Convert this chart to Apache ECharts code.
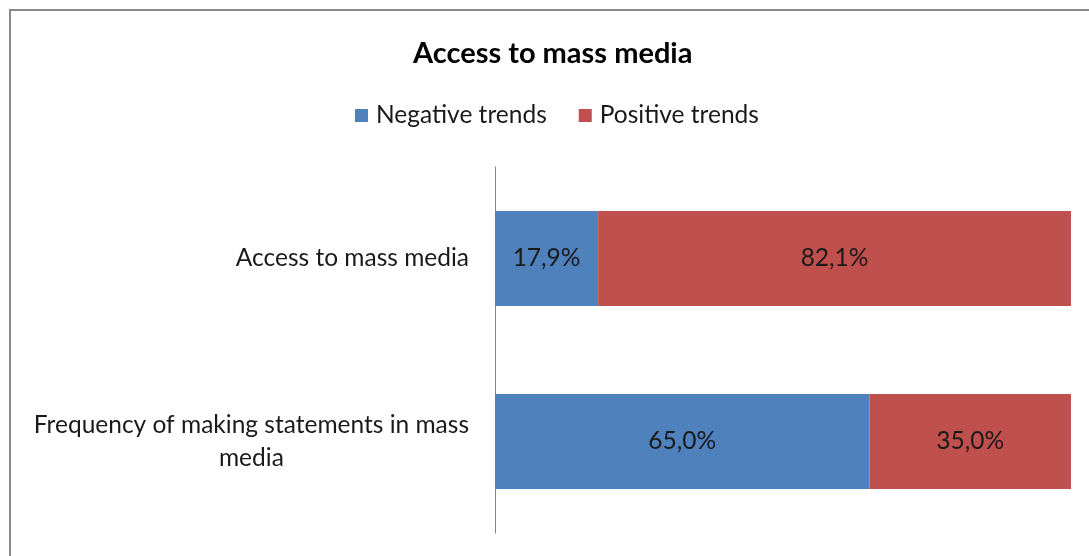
<!DOCTYPE html>
<html>
<head>
<meta charset="utf-8">
<title>Access to mass media</title>
<script src="https://cdn.jsdelivr.net/npm/echarts@6/dist/echarts.min.js"></script>
<style>
  html, body { margin: 0; padding: 0; background: #fff; }
  #chart { width: 1089px; height: 556px; }
</style>
</head>
<body>
<div id="chart"></div>
<script>
// Survey items (top to bottom) and the share of answers per trend, in percent
const categories = [
  'Access to mass media',
  'Frequency of making statements in mass media'
];
const negativeTrends = [17.9, 65.0];
const positiveTrends = [82.1, 35.0];
const seriesNames = ['Negative trends', 'Positive trends'];

const FONT = 'Lato, "Liberation Sans", sans-serif';
const TEXT = '#1a1a1a';

// Wrap long category names into lines of at most maxChars characters
function wrap(text, maxChars) {
  const words = text.split(' ');
  const lines = [];
  let cur = '';
  words.forEach(w => {
    const next = cur ? cur + ' ' + w : w;
    if (next.length > maxChars && cur) { lines.push(cur); cur = w; }
    else cur = next;
  });
  if (cur) lines.push(cur);
  return lines.map(l => '{c|' + l + '}').join('\n');
}

const pct = v => v.toFixed(1).replace('.', ',') + '%';

const barLabel = {
  show: true,
  position: 'inside',
  formatter: p => pct(p.value),
  color: TEXT,
  fontFamily: FONT,
  fontSize: 24.5
};

const chart = echarts.init(document.getElementById('chart'), null, { renderer: 'canvas' });
chart.setOption({
  backgroundColor: '#fff',
  animation: false,
  graphic: [{
    type: 'rect',
    shape: { x: 10, y: 10, width: 1200, height: 1000 },
    style: { fill: 'none', stroke: '#8a8a8a', lineWidth: 2 },
    silent: true
  }],
  title: {
    text: 'Access to mass media',
    left: 408,
    top: 34,
    textStyle: { fontFamily: FONT, fontSize: 29, fontWeight: 'bold', color: '#000' }
  },
  legend: {
    data: seriesNames,
    left: 350,
    top: 98,
    icon: 'rect',
    itemWidth: 13,
    itemHeight: 13,
    itemGap: 32,
    textStyle: { fontFamily: FONT, fontSize: 24.5, color: TEXT, padding: [0, 0, 0, 3] }
  },
  grid: { left: 495, right: 18, top: 167, bottom: 23, containLabel: false },
  xAxis: {
    type: 'value',
    min: 0,
    max: 100,
    show: false
  },
  yAxis: {
    type: 'category',
    data: categories,
    inverse: true,
    axisLine: { show: true, lineStyle: { color: '#868686', width: 1 } },
    axisTick: { show: false },
    axisLabel: {
      margin: 26,
      align: 'right',
      formatter: v => wrap(v, 40),
      rich: {
        c: { align: 'center', fontFamily: FONT, fontSize: 24.5, color: TEXT, lineHeight: 33 }
      }
    }
  },
  series: [
    {
      name: seriesNames[0],
      type: 'bar',
      stack: 'total',
      barWidth: '52%',
      data: negativeTrends,
      itemStyle: { color: '#4F81BD' },
      label: barLabel
    },
    {
      name: seriesNames[1],
      type: 'bar',
      stack: 'total',
      barWidth: '52%',
      data: positiveTrends,
      itemStyle: { color: '#C0504D' },
      label: barLabel
    }
  ]
});
</script>
</body>
</html>
